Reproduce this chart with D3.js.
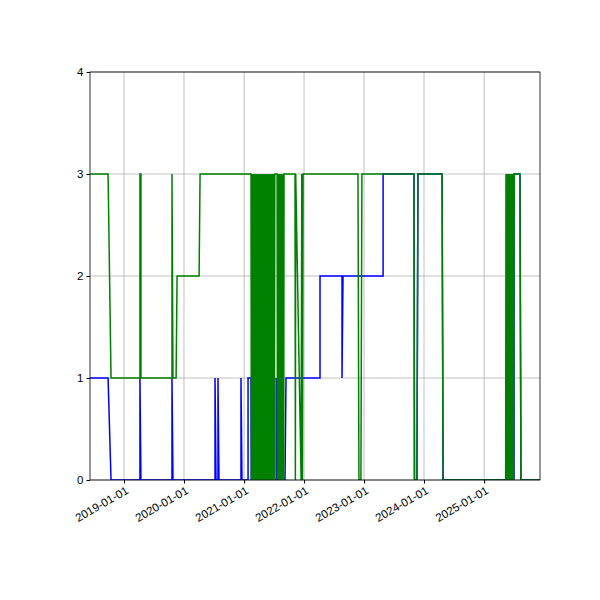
<!DOCTYPE html><html><head><script src="https://cdn.jsdelivr.net/npm/d3@7"></script>
<style>body{margin:0}svg{font-family:"DejaVu Sans";}</style></head><body>
<script>
const xDomain=["2018-06-08","2025-12-07"];
const yTicks=[0,1,2,3,4];
const burst1=["2021-02-12","2021-02-14","2021-02-17","2021-02-19","2021-02-22","2021-02-24","2021-02-27","2021-03-01","2021-03-04","2021-03-06","2021-03-09","2021-03-11","2021-03-14","2021-03-16","2021-03-19","2021-03-21","2021-03-24","2021-03-26","2021-03-29","2021-03-31","2021-04-03","2021-04-05","2021-04-08","2021-04-10","2021-04-13","2021-04-15","2021-04-18","2021-04-20","2021-04-23","2021-04-25","2021-04-28","2021-04-30","2021-05-03","2021-05-05","2021-05-08","2021-05-10","2021-05-13","2021-05-15","2021-05-18","2021-05-20","2021-05-23","2021-05-25","2021-05-28","2021-05-30","2021-06-02","2021-06-04","2021-06-07","2021-06-09","2021-06-12","2021-06-14","2021-06-17","2021-06-19","2021-06-22","2021-06-24","2021-06-27","2021-06-29","2021-07-02","2021-07-04","2021-07-07"];
const burst2=["2021-07-21","2021-07-23","2021-07-26","2021-07-28","2021-07-30","2021-08-02","2021-08-04","2021-08-06","2021-08-09","2021-08-11","2021-08-13","2021-08-16","2021-08-18","2021-08-20","2021-08-23","2021-08-25","2021-08-27","2021-08-30","2021-09-01"];
const burst3=["2021-11-07","2021-11-09","2021-11-11","2021-12-14","2021-12-18","2021-12-22"];
const burst4=["2025-05-14","2025-05-16","2025-05-18","2025-05-20","2025-05-22","2025-05-24","2025-05-26","2025-05-28","2025-05-30","2025-06-01","2025-06-03","2025-06-05","2025-06-07","2025-06-09","2025-06-11","2025-06-13","2025-06-15","2025-06-17","2025-06-19","2025-06-21","2025-06-23","2025-06-25","2025-06-27","2025-06-29"];
function burst(ds,first){return ds.map((d,i)=>[d,i%2===0?first:3-first]);}
const green=[["2018-06-08",3],["2018-09-26",3],["2018-10-14",1],["2019-04-08",1],["2019-04-08",3],["2019-04-14",3],["2019-04-14",1],["2019-10-20",1],["2019-10-20",3],["2019-10-26",1],["2019-11-14",1],["2019-11-20",2],["2020-04-02",2],["2020-04-08",3],
 ...burst(burst1,3),["2021-07-15",3],...burst(burst2,3),["2021-09-03",3],["2021-11-05",3],...burst(burst3,3),["2021-12-26",3],
 ["2022-11-25",3],["2022-12-01",0],["2022-12-13",0],["2022-12-19",3],["2023-11-01",3],["2023-11-04",0],["2023-11-19",0],["2023-11-25",3],["2024-04-20",3],["2024-04-26",0],["2025-05-12",0],...burst(burst4,3),["2025-07-03",3],["2025-08-07",3],["2025-08-13",0],["2025-12-07",0]];
const blue=[["2018-06-08",1],["2018-09-26",1],["2018-10-14",0],["2019-04-08",0],["2019-04-08",1],["2019-04-14",0],["2019-10-20",0],["2019-10-20",1],["2019-10-26",0],["2020-07-08",0],["2020-07-08",1],["2020-07-14",0],["2020-07-26",0],["2020-07-26",1],["2020-08-01",0],["2020-12-13",0],["2020-12-13",1],["2020-12-19",0],["2021-01-25",0],["2021-01-25",1],["2021-02-12",1],["2021-02-14",0],["2021-07-15",0],["2021-07-15",1],["2021-07-21",0],["2021-09-07",0],["2021-09-13",1],["2022-04-08",1],["2022-04-08",2],["2022-08-20",2],["2022-08-20",1],["2022-08-26",2],["2023-04-27",2],["2023-04-27",3],["2023-11-01",3],["2023-11-04",0],["2023-11-19",0],["2023-11-25",3],["2024-04-20",3],["2024-04-26",0],["2025-07-02",0],["2025-07-02",3],["2025-08-07",3],["2025-08-13",0],["2025-12-07",0]];
const P=d3.utcParse("%Y-%m-%d");
const L=90,R=540,T=72,B=480;
const svg=d3.select("body").append("svg").attr("width",600).attr("height",600);
const x=d3.scaleUtc().domain(xDomain.map(P)).range([L,R]);
const y=d3.scaleLinear().domain([0,4]).range([B,T]);
const xt=d3.utcYear.range(P("2019-01-01"),P("2025-06-01"));
const g=svg.append("g");
g.selectAll(".vx").data(xt).join("line").attr("x1",d=>x(d)).attr("x2",d=>x(d)).attr("y1",T).attr("y2",B).attr("stroke","#b0b0b0").attr("stroke-width",0.8);
g.selectAll(".hy").data(yTicks).join("line").attr("y1",d=>y(d)).attr("y2",d=>y(d)).attr("x1",L).attr("x2",R).attr("stroke","#b0b0b0").attr("stroke-width",0.8);
svg.append("defs").append("clipPath").attr("id","c").append("rect").attr("x",L).attr("y",T).attr("width",R-L).attr("height",B-T);
const line=d3.line().x(d=>x(P(d[0]))).y(d=>y(d[1]));
svg.append("path").datum(blue).attr("d",line).attr("fill","none").attr("stroke","blue").attr("stroke-width",1.5).attr("clip-path","url(#c)");
svg.append("path").datum(green).attr("d",line).attr("fill","none").attr("stroke","green").attr("stroke-width",1.5).attr("clip-path","url(#c)");
const xa=svg.append("g").attr("transform",`translate(0,${B})`).call(d3.axisBottom(x).tickValues(xt).tickFormat(d3.utcFormat("%Y-%m-%d")).tickSizeOuter(0).tickSize(3.5));
xa.selectAll("text").attr("text-anchor","end").attr("dx","-0.2em").attr("dy","0.6em").attr("transform","rotate(-30)").style("font-size","11.5px").attr("fill","#000");
svg.append("g").attr("transform",`translate(${L},0)`).call(d3.axisLeft(y).tickValues(yTicks).tickFormat(d3.format("d")).tickSizeOuter(0).tickSize(3.5)).selectAll("text").style("font-size","11.5px").attr("fill","#000");
svg.selectAll(".domain").remove();
svg.append("rect").attr("x",L).attr("y",T).attr("width",R-L).attr("height",B-T).attr("fill","none").attr("stroke","#000").attr("stroke-width",0.8);
</script></body></html>
